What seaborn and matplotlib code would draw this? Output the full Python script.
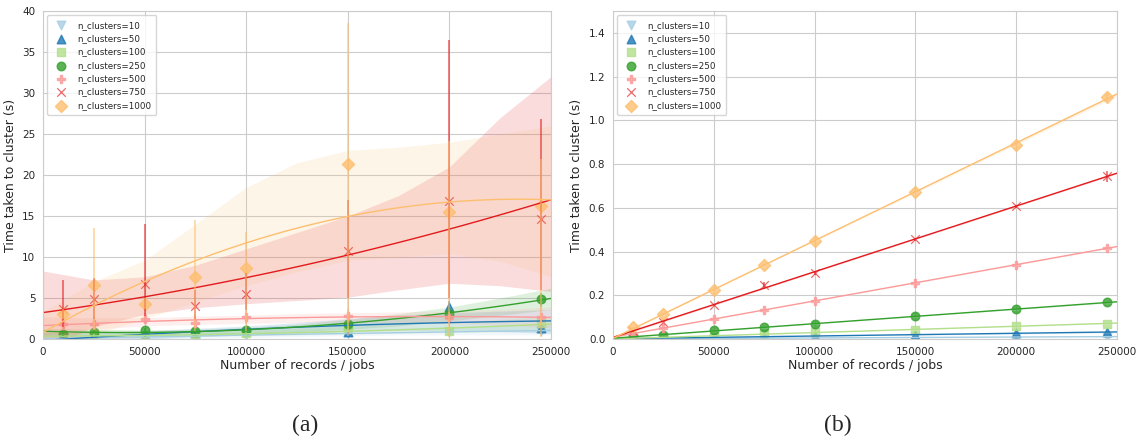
"""
Clustering run time vs. number of records, two panels (a) and (b).
Quadratic fits in (a), linear fits in (b); saved as out.png.
"""

import numpy as np
import matplotlib
matplotlib.use("Agg")
import matplotlib.pyplot as plt
import seaborn as sns

# ---- data ----
x_pts = [10000, 25000, 50000, 75000, 100000, 150000, 200000, 245000]
band_x = [0, 25000, 50000, 75000, 100000, 125000, 150000, 175000, 200000, 225000, 250000]

labels = ["n_clusters=10", "n_clusters=50", "n_clusters=100", "n_clusters=250",
          "n_clusters=500", "n_clusters=750", "n_clusters=1000"]
markers = ["v", "^", "s", "o", "P", "x", "D"]

# panel (a): mean times
a10 = [0.10, 0.15, 0.25, 0.35, 0.45, 0.70, 0.90, 1.00]
a50 = [0.20, 0.30, 0.50, 0.70, 1.00, 0.80, 3.90, 1.30]
a100 = [0.40, 0.45, 0.30, 0.40, 0.70, 1.30, 0.95, 1.90]
a250 = [0.65, 0.85, 1.09, 1.00, 1.09, 1.78, 3.10, 4.86]
a500 = [1.78, 1.82, 2.39, 1.90, 2.70, 2.80, 2.60, 2.70]
a750 = [3.60, 4.86, 6.65, 4.05, 5.55, 10.70, 16.85, 14.60]
a1000 = [3.04, 6.64, 4.25, 7.53, 8.70, 21.35, 15.50, 16.20]

# panel (a): error bar ends
a10_lo = [0.05, 0.10, 0.15, 0.20, 0.30, 0.40, 0.60, 0.70]
a10_hi = [0.20, 0.25, 0.40, 0.50, 0.60, 1.00, 1.30, 1.40]
a50_lo = [0.10, 0.15, 0.30, 0.40, 0.60, 0.50, 3.00, 0.90]
a50_hi = [0.40, 0.50, 0.80, 1.00, 1.40, 1.20, 4.60, 1.80]
a100_lo = [0.20, 0.30, 0.10, 0.20, 0.40, 0.80, 0.60, 1.40]
a100_hi = [0.60, 0.70, 0.50, 0.60, 1.00, 1.80, 1.30, 2.40]
a250_lo = [0.40, 0.60, 0.80, 0.70, 0.80, 1.30, 2.50, 3.90]
a250_hi = [0.90, 1.10, 1.40, 1.30, 1.40, 2.30, 3.80, 5.60]
a500_lo = [1.10, 1.20, 1.80, 1.30, 2.00, 2.00, 2.00, 2.00]
a500_hi = [2.60, 2.70, 3.20, 2.90, 3.40, 3.60, 3.30, 4.00]
a750_lo = [1.50, 2.50, 2.80, 2.50, 3.50, 5.00, 5.00, 6.00]
a750_hi = [7.20, 7.50, 14.00, 6.00, 8.00, 17.00, 36.50, 26.80]
a1000_lo = [2.50, 1.10, 3.60, 1.00, 1.00, 0.50, 0.30, 0.30]
a1000_hi = [3.60, 13.60, 5.00, 14.50, 13.00, 38.60, 24.20, 22.00]

# panel (a): confidence bands of the fits
band10_lo = [-0.3, -0.1, 0.0, 0.1, 0.2, 0.3, 0.4, 0.5, 0.5, 0.5, 0.5]
band10_hi = [0.5, 0.5, 0.6, 0.7, 0.8, 0.9, 1.1, 1.3, 1.5, 1.6, 1.8]
band50_lo = [-0.8, -0.4, 0.0, 0.3, 0.5, 0.7, 0.9, 1.0, 1.0, 0.9, 0.7]
band50_hi = [0.8, 0.8, 1.0, 1.3, 1.6, 2.0, 2.5, 2.9, 3.2, 3.4, 3.6]
band100_lo = [0.0, 0.1, 0.2, 0.3, 0.4, 0.5, 0.6, 0.7, 0.8, 0.9, 1.0]
band100_hi = [0.8, 0.8, 0.8, 0.9, 1.0, 1.2, 1.4, 1.7, 2.0, 2.4, 2.8]
band250_lo = [0.3, 0.4, 0.5, 0.6, 0.7, 0.9, 1.2, 1.6, 2.2, 2.9, 3.6]
band250_hi = [1.3, 1.2, 1.1, 1.2, 1.4, 1.8, 2.4, 3.1, 3.9, 5.0, 6.2]
band500_lo = [0.7, 1.2, 1.6, 1.8, 1.9, 2.0, 2.0, 2.0, 1.9, 1.7, 1.4]
band500_hi = [2.7, 2.6, 2.6, 2.8, 2.9, 3.1, 3.2, 3.3, 3.4, 3.6, 3.9]
band750_lo = [-1.5, 1.5, 3.0, 3.8, 4.3, 4.7, 5.1, 6.0, 6.8, 6.5, 5.8]
band750_hi = [8.3, 7.2, 7.6, 9.0, 11.0, 13.0, 15.0, 17.5, 21.0, 27.0, 32.0]
band1000_lo = [-1.5, 0.5, 2.5, 4.5, 6.5, 8.2, 9.6, 10.0, 10.4, 9.5, 7.6]
band1000_hi = [3.3, 7.0, 9.6, 14.0, 18.5, 21.5, 23.0, 23.4, 24.0, 25.0, 26.0]

# panel (b): mean times
b10 = [0.001, 0.002, 0.003, 0.004, 0.005, 0.007, 0.009, 0.011]
b50 = [0.003, 0.005, 0.008, 0.010, 0.012, 0.020, 0.027, 0.032]
b100 = [0.004, 0.008, 0.014, 0.022, 0.030, 0.043, 0.061, 0.070]
b250 = [0.012, 0.018, 0.039, 0.053, 0.070, 0.103, 0.135, 0.169]
b500 = [0.025, 0.050, 0.093, 0.134, 0.172, 0.256, 0.340, 0.416]
b750 = [0.035, 0.080, 0.157, 0.245, 0.302, 0.457, 0.607, 0.744]
b1000 = [0.053, 0.114, 0.224, 0.340, 0.447, 0.672, 0.889, 1.107]

# panel (b): error bar ends (only the visible ones)
b750_lo = [0.033, 0.077, 0.152, 0.230, 0.295, 0.450, 0.600, 0.720]
b750_hi = [0.037, 0.083, 0.162, 0.260, 0.309, 0.464, 0.614, 0.770]
b1000_lo = [0.051, 0.110, 0.219, 0.335, 0.441, 0.666, 0.882, 1.090]
b1000_hi = [0.055, 0.118, 0.229, 0.345, 0.453, 0.678, 0.896, 1.130]

sns.set_style("whitegrid")
plt.rcParams["font.family"] = ["DejaVu Sans"]
colors = sns.color_palette("Paired", 8)[:7]


def scatter_style(marker):
    # thin strokes for the "x" marker, like the original
    kws = {"s": 38}
    if marker == "x":
        kws["linewidths"] = 0.9
        kws["alpha"] = 0.65
    return kws


fig = plt.figure(figsize=(11.4, 4.42), dpi=100)
ax_a = fig.add_axes([0.0377, 0.233, 0.4456, 0.742])
ax_b = fig.add_axes([0.5377, 0.233, 0.4421, 0.742])

# ---- panel (a) ----
ax_a.set_xlim(0, 250000)
ax_a.set_ylim(0, 40)
means_a = [a10, a50, a100, a250, a500, a750, a1000]
err_a = [(a10_lo, a10_hi), (a50_lo, a50_hi), (a100_lo, a100_hi), (a250_lo, a250_hi),
         (a500_lo, a500_hi), (a750_lo, a750_hi), (a1000_lo, a1000_hi)]
bands_a = [(band10_lo, band10_hi), (band50_lo, band50_hi), (band100_lo, band100_hi),
           (band250_lo, band250_hi), (band500_lo, band500_hi), (band750_lo, band750_hi),
           (band1000_lo, band1000_hi)]
for i in range(7):
    ax_a.fill_between(band_x, bands_a[i][0], bands_a[i][1], color=colors[i],
                      alpha=0.15, linewidth=0)
    sns.regplot(x=np.array(x_pts), y=np.array(means_a[i]), order=2, ci=None,
                truncate=False, marker=markers[i], color=colors[i], label=labels[i],
                scatter_kws=scatter_style(markers[i]), line_kws={"linewidth": 1}, ax=ax_a)
    ax_a.vlines(x_pts, err_a[i][0], err_a[i][1], color=colors[i], linewidth=1.3, alpha=0.6)

ax_a.set_yticks(np.arange(0, 41, 5))

# ---- panel (b) ----
ax_b.set_xlim(0, 250000)
ax_b.set_ylim(0, 1.5)
means_b = [b10, b50, b100, b250, b500, b750, b1000]
for i in range(7):
    sns.regplot(x=np.array(x_pts), y=np.array(means_b[i]), order=1, ci=95, seed=0,
                truncate=False, marker=markers[i], color=colors[i], label=labels[i],
                scatter_kws=scatter_style(markers[i]), line_kws={"linewidth": 1}, ax=ax_b)
ax_b.vlines(x_pts, b750_lo, b750_hi, color=colors[5], linewidth=1.3, alpha=0.6)
ax_b.vlines(x_pts, b1000_lo, b1000_hi, color=colors[6], linewidth=1.3, alpha=0.6)
ax_b.set_yticks(np.arange(0, 1.41, 0.2))
ax_b.yaxis.set_major_formatter(matplotlib.ticker.FormatStrFormatter("%.1f"))

for ax in (ax_a, ax_b):
    ax.set_xticks([0, 50000, 100000, 150000, 200000, 250000])
    ax.tick_params(labelsize=7.5, pad=2)
    ax.set_xlabel("Number of records / jobs", fontsize=9, labelpad=2)
    ax.set_ylabel("Time taken to cluster (s)", fontsize=9, labelpad=4)
    ax.legend(loc="upper left", fontsize=6.3, frameon=True, borderpad=0.6,
              labelspacing=0.5, handletextpad=0.8)

fig.text(0.2675, 0.038, "(a)", ha="center", va="center", fontsize=17,
         family="Liberation Serif")
fig.text(0.735, 0.038, "(b)", ha="center", va="center", fontsize=17,
         family="Liberation Serif")

fig.savefig("out.png", dpi=100)
plt.close(fig)
